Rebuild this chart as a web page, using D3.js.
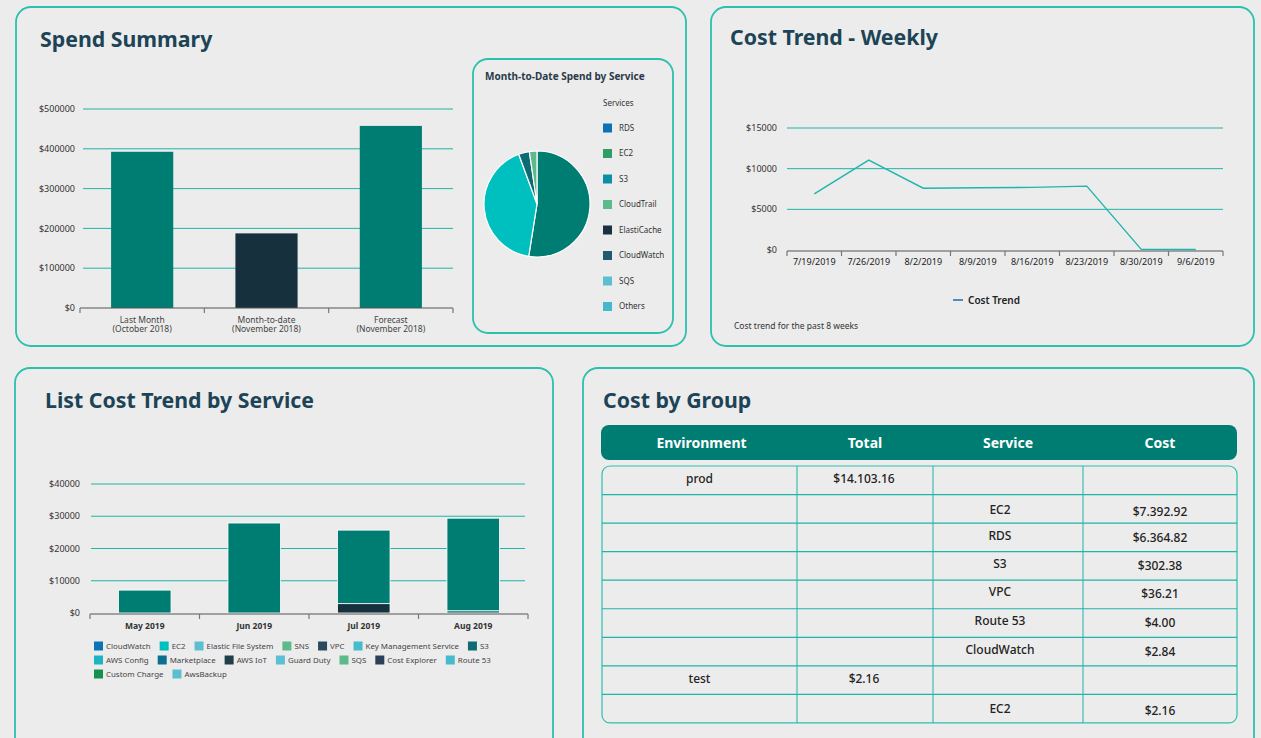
<!DOCTYPE html>
<html><head><meta charset="utf-8">
<script src="https://cdn.jsdelivr.net/npm/d3@7/dist/d3.min.js"></script>
<style>
html,body{margin:0;padding:0;background:#ececec;}
svg{display:block;font-family:"Noto Sans","Open Sans",sans-serif;}
</style></head>
<body><svg id="c" width="1261" height="738"></svg>
<script>
// ---------- DATA ----------
const spendCategories = ["Last Month|(October 2018)", "Month-to-date|(November 2018)", "Forecast|(November 2018)"];
const spendValues = [392500, 187500, 457500];
const spendTicks = [0, 100000, 200000, 300000, 400000, 500000];

const pieLegend = ["RDS", "EC2", "S3", "CloudTrail", "ElastiCache", "CloudWatch", "SQS", "Others"];
const pieLegendColors = ["#0a72b5", "#2e9e68", "#0b8fa6", "#5dba8a", "#1b3040", "#245a70", "#5bbfd0", "#45b8cc"];
const pieValues = [52.5, 41.9, 3.3, 2.3];
const pieColors = ["#007d73", "#00bfbf", "#0e6b73", "#5dba8a"];

const weekDates = ["7/19/2019", "7/26/2019", "8/2/2019", "8/9/2019", "8/16/2019", "8/23/2019", "8/30/2019", "9/6/2019"];
const weekCosts = [6900, 11050, 7600, 7650, 7700, 7850, 80, 60];
const weekTicks = [0, 5000, 10000, 15000];

const months = ["May 2019", "Jun 2019", "Jul 2019", "Aug 2019"];
const stackKeys = ["AWS IoT", "S3", "EC2"];
const stackIoT = [0, 0, 2900, 0];
const stackS3 = [0, 0, 0, 700];
const stackEC2 = [7100, 27900, 22800, 28700];
const stackColors = ["#17303d", "#0b7470", "#007d73"];
const monthTicks = [0, 10000, 20000, 30000, 40000];
const legendRow1 = ["CloudWatch", "EC2", "Elastic File System", "SNS", "VPC", "Key Management Service", "S3"];
const legendRow2 = ["AWS Config", "Marketplace", "AWS IoT", "Guard Duty", "SQS", "Cost Explorer", "Route 53"];
const legendRow3 = ["Custom Charge", "AwsBackup"];
const legendColors1 = ["#0a72b5", "#00bfbf", "#5bbfd0", "#5dba8a", "#2a4a5e", "#45bccc", "#0e6b73"];
const legendColors2 = ["#1fb5c0", "#0a7090", "#1e3f4a", "#5bc0d4", "#5dba8a", "#2a4058", "#45bccc"];
const legendColors3 = ["#16904f", "#5bbfd0"];

const tableHeaders = ["Environment", "Total", "Service", "Cost"];
const tableEnv = ["prod", "", "", "", "", "", "", "test", ""];
const tableTotal = ["$14.103.16", "", "", "", "", "", "", "$2.16", ""];
const tableService = ["", "EC2", "RDS", "S3", "VPC", "Route 53", "CloudWatch", "", "EC2"];
const tableCost = ["", "$7.392.92", "$6.364.82", "$302.38", "$36.21", "$4.00", "$2.84", "", "$2.16"];

// ---------- STYLE ----------
const TEAL = "#007d73", BORDER = "#2cc0ae", GRID = "#1fb5a8", TITLE = "#1d4456", TXT = "#333";
const svg = d3.select("#c");

function panel(x, y, w, h, r) {
  svg.append("rect").attr("x", x).attr("y", y).attr("width", w).attr("height", h)
    .attr("rx", r).attr("fill", "#ececec").attr("stroke", BORDER).attr("stroke-width", 1.8);
}
function title(x, y, t, s) {
  svg.append("text").attr("x", x).attr("y", y).text(t).attr("font-size", s || 21.3)
    .attr("font-weight", 700).attr("fill", TITLE);
}
function yAxisGrid(g, y, ticks, x0, x1, lx) {
  ticks.forEach(t => {
    if (t !== 0) g.append("line").attr("x1", x0).attr("x2", x1).attr("y1", y(t)).attr("y2", y(t))
      .attr("stroke", GRID).attr("stroke-width", 1);
    g.append("text").attr("x", lx).attr("y", y(t)).attr("dy", "0.35em").attr("text-anchor", "end")
      .attr("font-size", 9).attr("fill", TXT).text("$" + t);
  });
}
function bandAxis(g, x, yPos) {
  const r = x.range();
  g.append("line").attr("x1", r[0]).attr("x2", r[1]).attr("y1", yPos).attr("y2", yPos)
    .attr("stroke", "#555").attr("stroke-width", 1.2);
  const n = x.domain().length;
  for (let i = 0; i <= n; i++) {
    const px = r[0] + i * x.step();
    g.append("line").attr("x1", px).attr("x2", px).attr("y1", yPos).attr("y2", yPos + 5)
      .attr("stroke", "#777").attr("stroke-width", 1.2);
  }
}

// ---------- PANELS ----------
panel(16, 7, 670, 339, 15);
panel(711, 7, 543, 339, 15);
panel(15, 368, 538, 390, 15);
panel(583, 368, 671, 390, 15);
panel(473, 59, 200, 274, 15);

title(40, 47, "Spend Summary");
title(730, 45, "Cost Trend - Weekly");
title(45, 408, "List Cost Trend by Service");
title(603, 408, "Cost by Group");

// ---------- SPEND SUMMARY ----------
{
  const g = svg.append("g");
  const y = d3.scaleLinear().domain([0, 500000]).range([308, 109]);
  const x = d3.scaleBand().domain(spendCategories).range([80, 453]).paddingInner(0.5).paddingOuter(0.25);
  yAxisGrid(g, y, spendTicks, 83, 453, 75);
  g.selectAll(".b").data(spendValues).enter().append("rect")
    .attr("x", (d, i) => x(spendCategories[i])).attr("width", x.bandwidth())
    .attr("y", d => y(d)).attr("height", d => y(0) - y(d))
    .attr("fill", (d, i) => i === 1 ? "#17303d" : TEAL);
  bandAxis(g, x, 308);
  spendCategories.forEach(c => {
    const parts = c.split("|");
    const t = g.append("text").attr("x", x(c) + x.bandwidth() / 2).attr("y", 323)
      .attr("text-anchor", "middle").attr("font-size", 8.5).attr("fill", "#444");
    t.append("tspan").attr("x", x(c) + x.bandwidth() / 2).text(parts[0]);
    t.append("tspan").attr("x", x(c) + x.bandwidth() / 2).attr("dy", 8.5).text(parts[1]);
  });
}

// ---------- PIE ----------
{
  svg.append("text").attr("x", 485).attr("y", 80).text("Month-to-Date Spend by Service")
    .attr("font-size", 10).attr("font-weight", 700).attr("fill", "#2a3a48");
  const g = svg.append("g").attr("transform", "translate(537,204)");
  const arcs = d3.pie().sort(null)(pieValues);
  const arc = d3.arc().innerRadius(0).outerRadius(53);
  g.selectAll("path").data(arcs).enter().append("path").attr("d", arc)
    .attr("fill", (d, i) => pieColors[i]).attr("stroke", "#fff").attr("stroke-width", 1.2);
  svg.append("text").attr("x", 603).attr("y", 106).text("Services").attr("font-size", 8).attr("fill", "#333");
  pieLegend.forEach((s, i) => {
    const yy = 128 + i * 25.5;
    svg.append("rect").attr("x", 603).attr("y", yy - 4.5).attr("width", 9).attr("height", 9).attr("fill", pieLegendColors[i]);
    svg.append("text").attr("x", 619).attr("y", yy).attr("dy", "0.35em").text(s).attr("font-size", 8).attr("fill", "#333");
  });
}

// ---------- WEEKLY LINE ----------
{
  const g = svg.append("g");
  const y = d3.scaleLinear().domain([0, 15000]).range([250, 128]);
  const x = d3.scaleBand().domain(weekDates).range([787, 1223]);
  yAxisGrid(g, y, weekTicks, 787, 1223, 777);
  bandAxis(g, x, 251);
  weekDates.forEach(d => g.append("text").attr("x", x(d) + x.bandwidth() / 2).attr("y", 265)
    .attr("text-anchor", "middle").attr("font-size", 9).attr("fill", "#222").text(d));
  const line = d3.line().x((d, i) => x(weekDates[i]) + x.bandwidth() / 2).y(d => y(d));
  g.append("path").datum(weekCosts).attr("d", line).attr("fill", "none")
    .attr("stroke", "#1fb5ad").attr("stroke-width", 1.4);
  g.append("line").attr("x1", 953).attr("x2", 963).attr("y1", 300).attr("y2", 300).attr("stroke", "#1a6fb0").attr("stroke-width", 1.5);
  g.append("text").attr("x", 968).attr("y", 300).attr("dy", "0.35em").text("Cost Trend")
    .attr("font-size", 10).attr("font-weight", 600).attr("fill", "#222");
  g.append("text").attr("x", 734).attr("y", 329).text("Cost trend for the past 8 weeks")
    .attr("font-size", 8.5).attr("fill", "#333");
}

// ---------- STACKED BARS ----------
{
  const g = svg.append("g");
  const y = d3.scaleLinear().domain([0, 40000]).range([613, 484]);
  const x = d3.scaleBand().domain(months).range([90, 528]).paddingInner(0.52).paddingOuter(0.26);
  yAxisGrid(g, y, monthTicks, 91, 525, 80);
  const rows = months.map((m, i) => ({ m, "AWS IoT": stackIoT[i], "S3": stackS3[i], "EC2": stackEC2[i] }));
  const series = d3.stack().keys(stackKeys)(rows);
  series.forEach((s, k) => {
    g.selectAll(".s" + k).data(s.filter(d => d[1] > d[0])).enter().append("rect")
      .attr("x", d => x(d.data.m)).attr("width", x.bandwidth())
      .attr("y", d => y(d[1])).attr("height", d => y(d[0]) - y(d[1]))
      .attr("fill", stackColors[k]).attr("stroke", "#fff").attr("stroke-width", 0.8);
  });
  bandAxis(g, x, 614);
  months.forEach(m => g.append("text").attr("x", x(m) + x.bandwidth() / 2).attr("y", 629)
    .attr("text-anchor", "middle").attr("font-size", 8.5).attr("font-weight", 700).attr("fill", "#333").text(m));
  // legend rows
  [[legendRow1, legendColors1], [legendRow2, legendColors2], [legendRow3, legendColors3]].forEach(([names, cols], r) => {
    let lx = 94;
    const ly = 646 + r * 14;
    names.forEach((s, i) => {
      g.append("rect").attr("x", lx).attr("y", ly - 4.5).attr("width", 9).attr("height", 9).attr("fill", cols[i]);
      const t = g.append("text").attr("x", lx + 12).attr("y", ly).attr("dy", "0.35em")
        .attr("font-size", 7.9).attr("fill", "#444").text(s);
      lx += 12 + t.node().getComputedTextLength() + 9;
    });
  });
}

// ---------- TABLE ----------
{
  const g = svg.append("g");
  const colX = [602, 797, 933, 1083, 1237];
  g.append("rect").attr("x", 601).attr("y", 425).attr("width", 636).attr("height", 35).attr("rx", 8).attr("fill", TEAL);
  tableHeaders.forEach((h, i) => g.append("text").attr("x", (colX[i] + colX[i + 1]) / 2 + (i === 0 ? 2 : 0))
    .attr("y", 443).attr("dy", "0.35em").attr("text-anchor", "middle").attr("font-size", 14)
    .attr("font-weight", 700).attr("fill", "#fff").text(h));
  const top = 466, rowH = 28.55, n = tableEnv.length, bottom = top + rowH * n;
  g.append("rect").attr("x", 602).attr("y", top).attr("width", 635).attr("height", bottom - top)
    .attr("rx", 8).attr("fill", "none").attr("stroke", BORDER).attr("stroke-width", 1.2);
  for (let r = 1; r < n; r++) g.append("line").attr("x1", 602).attr("x2", 1237)
    .attr("y1", top + r * rowH).attr("y2", top + r * rowH).attr("stroke", GRID).attr("stroke-width", 1.2);
  [797, 933, 1083].forEach(cx => g.append("line").attr("x1", cx).attr("x2", cx).attr("y1", top).attr("y2", bottom)
    .attr("stroke", GRID).attr("stroke-width", 1));
  const cols = [tableEnv, tableTotal, tableService, tableCost];
  const offs = [0, -1, -8, 0];
  const dyRow = [-1, 1, -2, -2, -3, -2, -2, -1, 0];
  cols.forEach((col, ci) => col.forEach((v, ri) => {
    if (!v) return;
    g.append("text").attr("x", (colX[ci] + colX[ci + 1]) / 2 + offs[ci])
      .attr("y", top + ri * rowH + rowH / 2 + dyRow[ri] + (ci === 3 ? 2 : 0)).attr("dy", "0.35em")
      .attr("text-anchor", "middle").attr("font-size", 12).attr("font-weight", 500).attr("fill", "#222").text(v);
  }));
}
</script></body></html>
